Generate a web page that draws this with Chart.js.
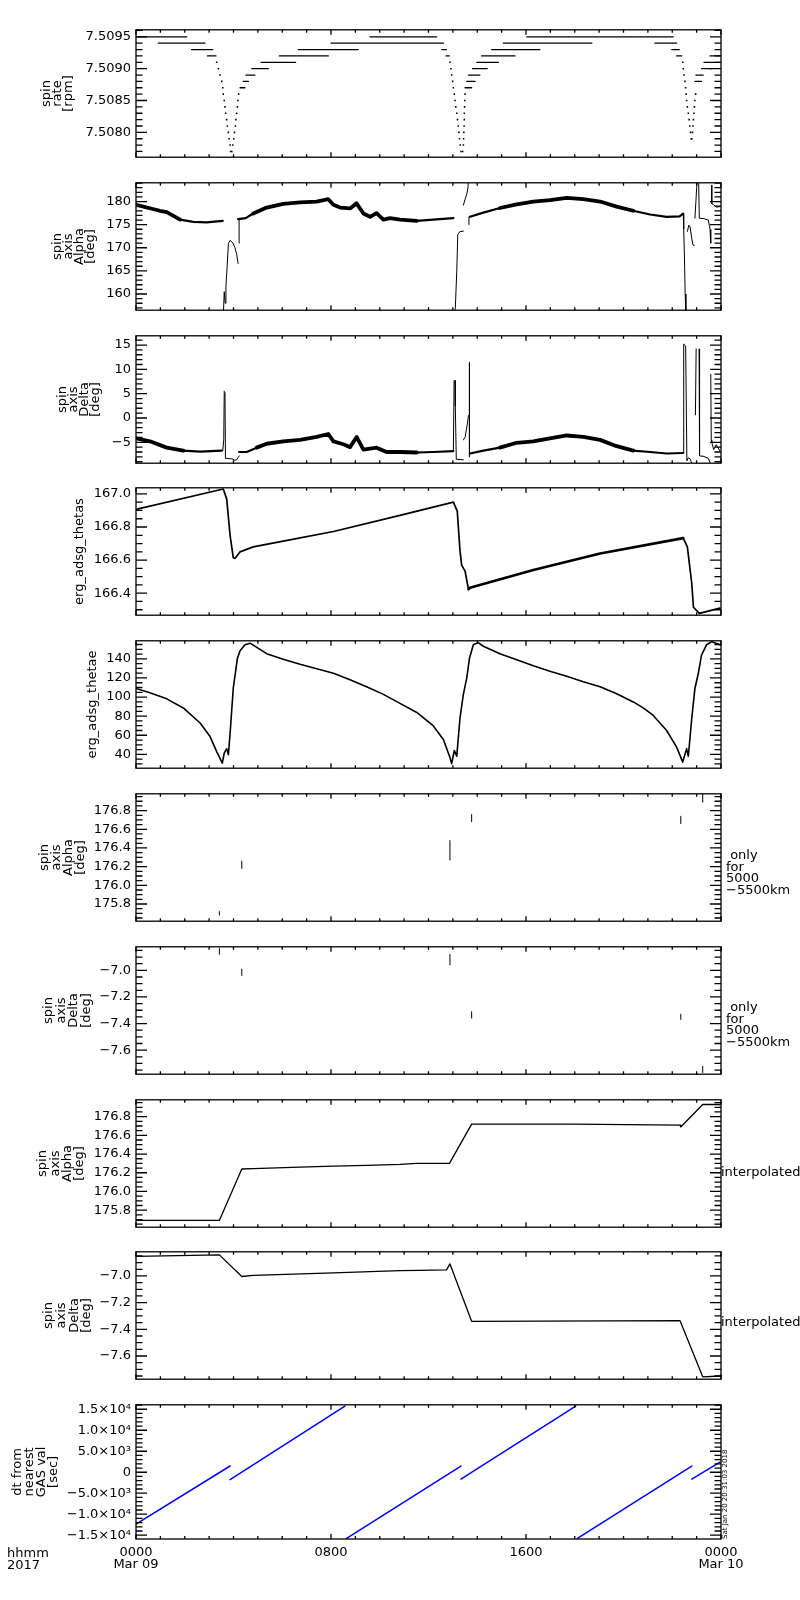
<!DOCTYPE html>
<html lang="en">
<head>
<meta charset="UTF-8">
<title>ERG spin axis summary</title>
<script src="https://cdn.jsdelivr.net/npm/chart.js"></script>
<style>
  body { margin: 0; background: #fff; }
  #page { position: relative; width: 800px; height: 1600px; overflow: hidden;
          font-family: 'DejaVu Sans', sans-serif; font-size: 13px; color: #000; }
  .panel { position: absolute; left: 0; width: 800px; }
  .txt { position: absolute; white-space: pre; line-height: 12px; z-index: 2; }
  .side { line-height: 11.5px; }
  .stamp { font-size: 7px; line-height: 7px; transform: rotate(-90deg); transform-origin: 0 0; }
</style>
</head>
<body>
<div id="page">
  <div class="txt side" style="left:726px; top:849px;"> only
for
5000
−5500km</div>
  <div class="txt side" style="left:726px; top:1001px;"> only
for
5000
−5500km</div>
  <div class="txt" style="left:721px; top:1166px;">interpolated</div>
  <div class="txt" style="left:721px; top:1316px;">interpolated</div>
  <div class="txt" style="left:7px; top:1547px;">hhmm
2017</div>
  <div class="txt stamp" style="left:722px; top:1539px;">Sat Jan 20 20:31:03 2018</div>
</div>
<script>
// time axis: hours after 0000 UT, 2017 Mar 09
const xTicks = [0, 8, 16, 24];
const xTickLabels = [['0000', 'Mar 09'], '0800', '1600', ['0000', 'Mar 10']];

// spin rate [rpm] - quantised plateaus and the dots of the three dips
const rateTicks = [7.5080, 7.5085, 7.5090, 7.5095];
const rateStepStart = [0, 0.92, 2.28, 2.93, 4.27, 4.40, 4.51, 4.75, 5.13, 5.88, 6.66, 8.00, 9.60,
  12.54, 12.72, 13.50, 13.57, 13.64, 13.81, 13.98, 14.18, 14.59, 15.07, 16.03,
  21.29, 21.98, 22.18, 22.93, 22.97, 23.20, 23.30, 23.55];
const rateStepEnd = [2.08, 2.83, 3.15, 3.28, 4.47, 4.61, 4.88, 5.43, 6.55, 7.89, 9.12, 12.61, 12.34,
  12.74, 12.85, 13.77, 13.91, 14.11, 14.41, 14.87, 15.55, 16.57, 18.70, 22.04,
  22.18, 22.29, 22.39, 23.20, 23.27, 23.62, 23.96, 23.96];
const rateStepLevel = [7.5095, 7.5094, 7.5093, 7.5092, 7.5087, 7.5088, 7.5089, 7.5090, 7.5091, 7.5092, 7.5093, 7.5094, 7.5095,
  7.5093, 7.5092, 7.5087, 7.5088, 7.5089, 7.5090, 7.5091, 7.5092, 7.5093, 7.5094, 7.5095,
  7.5094, 7.5093, 7.5092, 7.5088, 7.5089, 7.5090, 7.5091, 7.5092];
const rateDotT = [3.31, 3.38, 3.45, 3.52, 3.56, 3.58, 3.62, 3.65, 3.68, 3.72, 3.75, 3.79, 3.82, 3.86, 3.88, 3.93,
  3.97, 4.01, 4.04, 4.08, 4.10, 4.13, 4.16, 4.18, 4.21,
  12.88, 12.92, 12.95, 12.99, 13.02, 13.06, 13.09, 13.12, 13.16, 13.19, 13.22, 13.25, 13.27, 13.30, 13.33, 13.40,
  13.43, 13.44, 13.45, 13.46, 13.47, 13.47, 13.48, 13.49, 13.50,
  22.43, 22.45, 22.48, 22.52, 22.55, 22.57, 22.59, 22.62, 22.66, 22.69, 22.72, 22.75, 22.78,
  22.80, 22.83, 22.85, 22.87, 22.89, 22.91, 22.93, 22.96];
const rateDotV = [7.5091, 7.5090, 7.5089, 7.5088, 7.5087, 7.5086, 7.5085, 7.5084, 7.5083, 7.5082, 7.5081, 7.5080, 7.5079, 7.5078, 7.5077, 7.5077,
  7.5078, 7.5079, 7.5080, 7.5081, 7.5082, 7.5083, 7.5084, 7.5085, 7.5086,
  7.5091, 7.5090, 7.5089, 7.5088, 7.5087, 7.5086, 7.5085, 7.5084, 7.5083, 7.5082, 7.5081, 7.5080, 7.5079, 7.5078, 7.5077, 7.5077,
  7.5078, 7.5079, 7.5080, 7.5081, 7.5082, 7.5083, 7.5084, 7.5085, 7.5086,
  7.5091, 7.5090, 7.5089, 7.5088, 7.5087, 7.5086, 7.5085, 7.5084, 7.5083, 7.5082, 7.5081, 7.5080, 7.5079,
  7.5079, 7.5080, 7.5081, 7.5082, 7.5083, 7.5084, 7.5085, 7.5086];

// spin axis alpha [deg]: noisy band and the perigee excursions
const alphaTicks = [160, 165, 170, 175, 180];
const alphaT = [0, 0.98, 1.26, 1.81, 2.35, 2.9, 3.56, 3.56,
  4.19, 4.5, 4.81, 5.36, 6.04, 6.73, 7.41, 7.89, 8.10, 8.37, 8.78, 9.05, 9.33, 9.60, 9.87, 10.15, 10.42, 10.83, 11.52, 12.2, 13.02, 13.02,
  13.70, 14.25, 14.93, 15.62, 16.30, 16.98, 17.67, 18.35, 19.04, 19.72, 20.40, 21.09, 21.77, 22.30, 22.45];
const alphaV = [179.3, 178.0, 177.7, 176.1, 175.6, 175.5, 175.8, null,
  176.2, 176.4, 177.4, 178.7, 179.5, 179.8, 180.0, 180.5, 179.3, 178.7, 178.5, 179.6, 177.4, 176.7, 177.5, 176.1, 176.4, 176.1, 175.8, 176.1, 176.4, null,
  176.7, 177.6, 178.6, 179.4, 180.0, 180.3, 180.8, 180.5, 180.0, 178.9, 178.0, 177.2, 176.7, 176.8, 177.4];
const alphaEvT = [3.58, 3.62, 3.66, 3.69, 3.74, 3.79, 3.86, 3.93, 3.99, 4.06, 4.13, 4.19, 4.19,
  4.23, 4.23, 4.23,
  13.05, 13.10, 13.16, 13.20, 13.29, 13.43, 13.43,
  13.43, 13.50, 13.57, 13.62, 13.64, 13.64,
  13.66, 13.66, 13.66,
  22.45, 22.47, 22.50, 22.53, 22.56, 22.56,
  22.62, 22.68, 22.73, 22.80, 22.85, 22.90, 22.90,
  22.93, 22.97, 23.00, 23.03, 23.03,
  23.08, 23.11, 23.30, 23.48, 23.55, 23.58, 23.58,
  23.62, 23.62, 23.70, 23.80, 23.96];
const alphaEvV = [155, 160.5, 158, 161.8, 166, 170.9, 171.6, 171.3, 170.9, 170, 168.6, 166.6, null,
  171, 176.3, null,
  155, 157, 165, 172.8, 173.5, 173.6, null,
  179.2, 180.5, 181.6, 183, 185, null,
  175, 176.6, null,
  177.4, 174, 168, 160, 156, null,
  173.5, 174.9, 174.5, 172, 170.6, 170.5, null,
  176.4, 180, 183, 185, null,
  185, 176.4, 176.3, 176.0, 174, 171, null,
  183.5, 179.5, 179.3, 178.8, 178.9];

// spin axis delta [deg]
const deltaTicks = [-5, 0, 5, 10, 15];
const deltaT = [0, 0.57, 1.26, 1.94, 2.63, 3.52, 3.52,
  4.23, 4.54, 4.95, 5.36, 6.04, 6.73, 7.41, 7.89, 8.10, 8.51, 8.78, 9.05, 9.33, 9.87, 10.28, 10.83, 11.52, 12.2, 13.02, 13.02,
  13.70, 14.25, 14.93, 15.62, 16.30, 16.98, 17.67, 18.35, 19.04, 19.72, 20.40, 21.09, 21.77, 22.45];
const deltaV = [-4.2, -4.8, -6.1, -6.7, -6.9, -6.7, null,
  -7.0, -7.0, -6.1, -5.3, -4.8, -4.5, -3.9, -3.3, -4.8, -5.4, -6.0, -3.9, -6.5, -6.1, -7.0, -7.0, -7.1, -7.0, -6.8, null,
  -7.3, -6.7, -6.1, -5.1, -4.8, -4.2, -3.6, -3.9, -4.5, -5.8, -6.7, -7.0, -7.3, -7.2];
const deltaEvT = [3.56, 3.60, 3.62, 3.62,
  3.65, 3.67, 3.93, 4.05, 4.13, 4.23, 4.23,
  13.02, 13.05, 13.09, 13.10, 13.14, 13.43, 13.43,
  13.43, 13.50, 13.60, 13.64, 13.64,
  13.68, 13.68, 13.68,
  22.45, 22.47, 22.55, 22.60, 22.66, 22.73, 22.80, 22.80,
  22.95, 22.98, 22.98,
  23.10, 23.12, 23.30, 23.48, 23.55, 23.55,
  23.58, 23.60, 23.62, 23.70, 23.80, 23.96];
const deltaEvV = [-6.7, -4.5, 5.5, null,
  5.2, -8.3, -8.4, -8.7, -8.6, -7.8, null,
  -6.8, 7.7, 7.7, 2.4, -8.5, -8.6, null,
  -4.5, -4.0, -1.0, 0.5, null,
  11.4, -8.0, null,
  -7.2, 15.2, 14.8, -8.8, -8.2, -8.4, -9.3, null,
  0.6, 14.2, null,
  14.2, -7.8, -7.9, -8.3, -9.2, null,
  9.0, -4.5, -5.0, -6.5, -5.5, -6.8];

// erg_adsg_thetas
const thetasTicks = [166.4, 166.6, 166.8, 167.0];
const thetasT = [0, 3.58, 3.72, 3.86, 3.99, 4.06, 4.27, 4.81, 6.04, 8.10, 10.83, 13.02, 13.18, 13.29, 13.36,
  13.50, 13.64, 13.70, 16.30, 19.04, 22.45, 22.62, 22.80, 22.87, 23.11, 23.96];
const thetasV = [166.906, 167.03, 166.97, 166.75, 166.615, 166.61, 166.65, 166.68, 166.715, 166.773, 166.87, 166.95, 166.896, 166.66, 166.57,
  166.533, 166.424, 166.433, 166.54, 166.64, 166.733, 166.68, 166.46, 166.315, 166.278, 166.31];

// erg_adsg_thetae
const thetaeTicks = [40, 60, 80, 100, 120, 140];
const thetaeT = [0, 0.57, 1.26, 1.94, 2.63, 3.04, 3.31, 3.54, 3.62, 3.72, 3.79, 3.86, 3.99, 4.16, 4.27,
  4.47, 4.68, 5.36, 6.04, 6.73, 8.10, 8.78, 9.46, 10.15, 10.83, 11.52, 12.2, 12.61, 12.88, 12.95,
  13.06, 13.16, 13.29, 13.43, 13.57, 13.68, 13.84, 14.04, 14.25, 14.93, 15.62, 16.30, 16.98, 17.67, 18.35,
  19.04, 19.72, 20.40, 20.81, 21.22, 21.77, 22.18, 22.43, 22.59, 22.66, 22.80, 22.93, 23.07, 23.2, 23.41, 23.62, 23.96];
const thetaeV = [109, 104.4, 98.1, 88.6, 72.8, 58.6, 42.8, 30.9, 41.3, 46, 39.7, 61.8, 109, 140.6, 148.5,
  154.8, 156.4, 145.4, 139.7, 134.3, 124.9, 118, 110.7, 102.8, 93.4, 83.9, 69.7, 55.5, 36.6, 30.3,
  44, 38.1, 77.6, 102.8, 120.1, 140.6, 154.8, 157, 153.2, 145.4, 139, 132.7, 127, 121.7, 116,
  110.7, 103.4, 94.9, 88.6, 80.7, 65, 47.6, 31.9, 46, 38, 77.6, 109, 124.9, 143.8, 154.8, 158, 154.8];

// spin axis alpha / delta, only for 5000-5500 km (short vertical marks)
const shellTicksA = [175.8, 176.0, 176.2, 176.4, 176.6, 176.8];
const shellTicksD = [-7.6, -7.4, -7.2, -7.0];
const shellT = [3.42, 4.34, 12.88, 13.77, 22.35, 23.25];
const shellAlphaLo = [175.68, 176.18, 176.27, 176.68, 176.66, 176.89];
const shellAlphaHi = [175.72, 176.26, 176.48, 176.76, 176.74, 176.98];
const shellDeltaLo = [-6.88, -7.04, -6.96, -7.36, -7.37, -7.77];
const shellDeltaHi = [-6.835, -6.99, -6.88, -7.31, -7.33, -7.72];

// interpolated alpha / delta
const interpAlphaT = [0, 3.42, 4.34, 4.81, 6.73, 8.10, 9.46, 10.83, 11.52, 12.86, 13.77, 17.94, 22.32, 22.35, 23.25, 23.96];
const interpAlphaV = [175.69, 175.69, 176.24, 176.245, 176.26, 176.27, 176.28, 176.29, 176.30, 176.30, 176.72, 176.72, 176.71, 176.69, 176.93, 176.93];
const interpDeltaT = [0, 3.42, 4.34, 4.81, 8.10, 10.83, 11.6, 12.74, 12.88, 13.77, 22.32, 23.25, 23.96];
const interpDeltaV = [-6.853, -6.842, -7.004, -6.995, -6.977, -6.96, -6.958, -6.955, -6.91, -7.34, -7.335, -7.756, -7.75];

// dt from nearest GAS value [sec]
const dtTicks = [-15000, -10000, -5000, 0, 5000, 10000, 15000];
const dtTickLabels = ['−1.5×10⁴', '−1.0×10⁴', '−5.0×10³', '0', '5.0×10³', '1.0×10⁴', '1.5×10⁴'];
const dtT = [0, 3.86, 3.86, 3.86, 8.57, 8.57, 8.64, 13.33, 13.33, 13.33, 18.04, 18.04, 18.11, 22.80, 22.80, 22.80, 23.96];
const dtV = [-12353, 1483, null, -1783, 15771, null, -15754, 1483, null, -1625, 15771, null, -15754, 1483, null, -1625, 2390];

const PANEL_TOP = [23, 176, 329, 481, 634, 787, 940, 1093, 1245, 1398];
const PANEL_H = 141, PAD = 6, AXIS_W = 136, PLOT_RIGHT = 721, X_AXIS_H = 45;

Chart.defaults.font.family = "'DejaVu Sans', sans-serif";
Chart.defaults.font.size = 13;
Chart.defaults.color = '#000';

function series(t, v) { return t.map((h, i) => ({ x: h, y: v[i] })); }
function stepSeries(s, e, lvl) {
  const out = [];
  s.forEach((a, i) => out.push({ x: a, y: lvl[i] }, { x: e[i], y: lvl[i] }, { x: e[i], y: null }));
  return out;
}
function markSeries(t, lo, hi) {
  const out = [];
  t.forEach((h, i) => out.push({ x: h, y: lo[i] }, { x: h, y: hi[i] }, { x: h, y: null }));
  return out;
}
function lineDs(data, width, color) {
  return { data, borderColor: color || '#000', borderWidth: width, pointRadius: 0, tension: 0, spanGaps: false, fill: false,
           borderJoinStyle: 'round', borderCapStyle: 'round' };
}
// thicker stroke where the measured band is scattered (ranges in hours)
function bandDs(data, thin, thick, noisy) {
  const ds = lineDs(data, thin);
  ds.segment = {
    borderWidth: c => {
      const mid = (c.p0.parsed.x + c.p1.parsed.x) / 2;
      return noisy.some(r => mid >= r[0] && mid <= r[1]) ? thick : thin;
    }
  };
  return ds;
}
function dotDs(data) {
  return { data, showLine: false, pointRadius: 1.1, pointStyle: 'rect', backgroundColor: '#000', borderWidth: 0 };
}
function fmt(v, d) { return (v < 0 ? '−' : '') + Math.abs(v).toFixed(d); }

// IDL-like box: inward ticks on all four sides
const idlFrame = {
  id: 'idlFrame',
  afterDraw(chart, args, opts) {
    const { ctx, chartArea: a } = chart;
    const x = chart.scales.x, y = chart.scales.y;
    ctx.save();
    ctx.strokeStyle = '#000';
    ctx.lineWidth = 1.3;
    ctx.beginPath();
    const n0 = Math.ceil(y.min / opts.minor - 1e-6), n1 = Math.floor(y.max / opts.minor + 1e-6);
    for (let k = n0; k <= n1; k++) {
      const v = k * opts.minor;
      const major = y.ticks.some(t => Math.abs(t.value - v) < opts.minor / 10);
      const len = major ? 11 : 6.5;
      const p = y.getPixelForValue(v);
      ctx.moveTo(a.left, p); ctx.lineTo(a.left + len, p);
      ctx.moveTo(a.right - len, p); ctx.lineTo(a.right, p);
    }
    for (let h = 0; h <= 24; h++) {
      const len = h % 8 === 0 ? 5 : 3;
      const p = x.getPixelForValue(h);
      ctx.moveTo(p, a.top); ctx.lineTo(p, a.top + len);
      ctx.moveTo(p, a.bottom - len); ctx.lineTo(p, a.bottom);
    }
    ctx.stroke();
    ctx.strokeRect(a.left, a.top, a.right - a.left, a.bottom - a.top);
    ctx.restore();
  }
};

const noisyHours = [[0, 1.9], [5.0, 11.6], [14.9, 20.5]];

const panels = [
  { datasets: [lineDs(stepSeries(rateStepStart, rateStepEnd, rateStepLevel), 1.3), dotDs(series(rateDotT, rateDotV))],
    yMin: 7.50761, yMax: 7.50961, yTicks: rateTicks, yLabels: rateTicks.map(v => v.toFixed(4)), minor: 0.0001,
    title: ['spin', 'rate', '[rpm]'], titleX: 47, lh: 11 },
  { datasets: [bandDs(series(alphaT, alphaV), 2.2, 3.8, noisyHours), lineDs(series(alphaEvT, alphaEvV), 1)],
    yMin: 156.5, yMax: 184.05, yTicks: alphaTicks, yLabels: alphaTicks.map(v => fmt(v, 0)), minor: 1,
    title: ['spin', 'axis', 'Alpha', '[deg]'], titleX: 58, lh: 11 },
  { datasets: [bandDs(series(deltaT, deltaV), 2.2, 3.8, noisyHours), lineDs(series(deltaEvT, deltaEvV), 1)],
    yMin: -9.3, yMax: 16.9, yTicks: deltaTicks, yLabels: deltaTicks.map(v => fmt(v, 0)), minor: 1,
    title: ['spin', 'axis', 'Delta', '[deg]'], titleX: 63, lh: 11 },
  { datasets: [bandDs(series(thetasT, thetasV), 1.7, 2.6, [[13.6, 22.5]])],
    yMin: 166.267, yMax: 167.037, yTicks: thetasTicks, yLabels: thetasTicks.map(v => fmt(v, 1)), minor: 0.05,
    title: 'erg_adsg_thetas', titleX: 80, lh: 12 },
  { datasets: [lineDs(series(thetaeT, thetaeV), 1.6)],
    yMin: 25.5, yMax: 158.9, yTicks: thetaeTicks, yLabels: thetaeTicks.map(v => fmt(v, 0)), minor: 5,
    title: 'erg_adsg_thetae', titleX: 93, lh: 12 },
  { datasets: [lineDs(markSeries(shellT, shellAlphaLo, shellAlphaHi), 1)],
    yMin: 175.616, yMax: 176.98, yTicks: shellTicksA, yLabels: shellTicksA.map(v => fmt(v, 1)), minor: 0.05,
    title: ['spin', 'axis', 'Alpha', '[deg]'], titleX: 45, lh: 12 },
  { datasets: [lineDs(markSeries(shellT, shellDeltaLo, shellDeltaHi), 1)],
    yMin: -7.781, yMax: -6.823, yTicks: shellTicksD, yLabels: shellTicksD.map(v => fmt(v, 1)), minor: 0.05,
    title: ['spin', 'axis', 'Delta', '[deg]'], titleX: 49, lh: 12.5 },
  { datasets: [lineDs(series(interpAlphaT, interpAlphaV), 1.3)],
    yMin: 175.618, yMax: 176.98, yTicks: shellTicksA, yLabels: shellTicksA.map(v => fmt(v, 1)), minor: 0.05,
    title: ['spin', 'axis', 'Alpha', '[deg]'], titleX: 43, lh: 12.3 },
  { datasets: [lineDs(series(interpDeltaT, interpDeltaV), 1.3)],
    yMin: -7.774, yMax: -6.819, yTicks: shellTicksD, yLabels: shellTicksD.map(v => fmt(v, 1)), minor: 0.05,
    title: ['spin', 'axis', 'Delta', '[deg]'], titleX: 49, lh: 12.7 },
  { datasets: [lineDs(series(dtT, dtV), 1.5, '#0000ff')],
    yMin: -15907, yMax: 16066, yTicks: dtTicks, yLabels: dtTickLabels, minor: 1000,
    title: ['dt from', 'nearest', 'GAS val', '[sec]'], titleX: 18, lh: 12 }
];

const page = document.getElementById('page');

panels.forEach((p, i) => {
  const last = i === panels.length - 1;
  const h = PAD + PANEL_H + (last ? X_AXIS_H : PAD);
  const wrap = document.createElement('div');
  wrap.className = 'panel';
  wrap.style.top = (PANEL_TOP[i] - PAD) + 'px';
  wrap.style.height = h + 'px';
  const canvas = document.createElement('canvas');
  canvas.width = 800;
  canvas.height = h;
  canvas.style.width = '800px';
  canvas.style.height = h + 'px';
  wrap.appendChild(canvas);
  page.appendChild(wrap);

  new Chart(canvas, {
    type: 'line',
    data: { datasets: p.datasets },
    options: {
      responsive: false,
      animation: false,
      events: [],
      layout: { padding: { top: PAD, bottom: last ? 0 : PAD, left: 0, right: 800 - PLOT_RIGHT } },
      plugins: { legend: { display: false }, tooltip: { enabled: false }, idlFrame: { minor: p.minor } },
      scales: {
        x: {
          type: 'linear', min: 0, max: 24, display: last,
          afterBuildTicks: s => { s.ticks = xTicks.map(v => ({ value: v })); },
          afterFit: s => { s.height = last ? X_AXIS_H : 0; },
          ticks: { autoSkip: false, maxRotation: 0, padding: 8, font: { size: 13, lineHeight: '12px' },
                   callback: (v, k) => xTickLabels[k] },
          grid: { display: false, drawTicks: false },
          border: { display: false }
        },
        y: {
          type: 'linear', min: p.yMin, max: p.yMax,
          afterBuildTicks: s => { s.ticks = p.yTicks.map(v => ({ value: v })); },
          afterFit: s => { s.width = AXIS_W; },
          ticks: { autoSkip: false, padding: 5, callback: (v, k) => p.yLabels[k] },
          grid: { display: false, drawTicks: false },
          border: { display: false },
          title: { display: true, text: p.title, font: { size: 13, lineHeight: p.lh + 'px' },
                   padding: { top: p.titleX - p.lh / 2, bottom: 0 } }
        }
      }
    },
    plugins: [idlFrame]
  });
});
</script>
</body>
</html>
